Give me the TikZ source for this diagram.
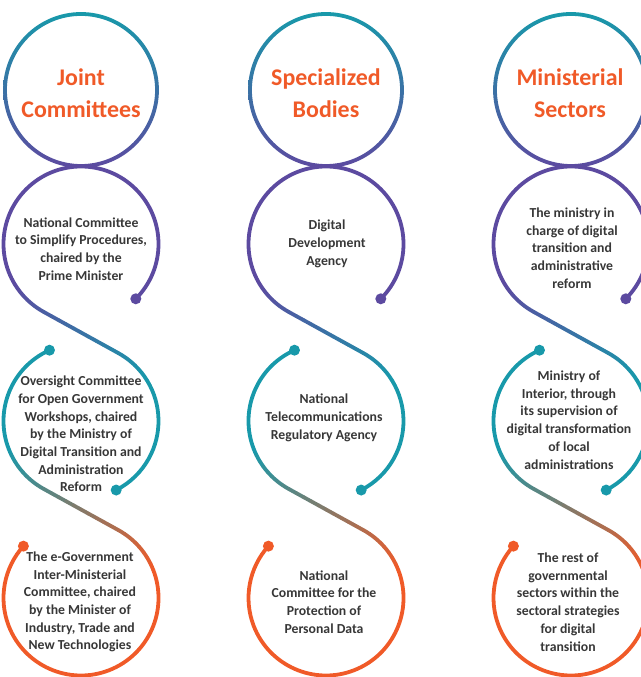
\documentclass[tikz,border=0pt]{standalone}
\usepackage{fontspec}
\setmainfont{Carlito}
\usetikzlibrary{calc}
\definecolor{cteal}{RGB}{24,153,170}
\definecolor{cpurple}{RGB}{92,74,160}
\definecolor{cblue}{RGB}{58,108,176}
\definecolor{corange}{RGB}{240,90,40}
\definecolor{ctext}{RGB}{55,55,55}
\tikzset{
  ring/.style={line width=3.8bp, line cap=round},
  dotmark/.style={circle, inner sep=0pt, minimum size=11bp},
  title/.style={text=corange, font=\fontsize{24}{32}\selectfont\bfseries, align=center},
  body/.style={text=ctext, font=\fontsize{13.8}{17.8}\selectfont\bfseries, align=center},
}
% #1 cx, #2 centre y of upper loop, #3 start colour, #4 end colour, #5 arc span (deg)
\newcommand\sgrad[5]{%
  \pgfmathsetmacro\sgLa{77.5*#5*pi/180}%
  \pgfmathsetmacro\sgLl{85.46}%
  \pgfmathsetmacro\sgLt{2*\sgLa+\sgLl}%
  \pgfmathsetmacro\sgFa{\sgLa/\sgLt}%
  \pgfmathsetmacro\sgFl{\sgLl/\sgLt}%
  \coordinate (ta) at ($(#1,#2)+(241.1:77.5)$);
  \coordinate (tb) at ($(#1,#2-177)+(61.1:77.5)$);
  \foreach \i in {0,...,7} {
    \pgfmathsetmacro\angS{241.1-#5+#5*\i/8}
    \pgfmathsetmacro\angE{241.1-#5+#5*(\i+1)/8}
    \pgfmathtruncatemacro\pc{100*((\i+0.5)/8*\sgFa)}
    \draw[ring, color=#4!\pc!#3] (#1,#2) ++(\angS:77.5) arc[start angle=\angS, end angle=\angE, radius=77.5];
  }
  \foreach \j in {0,...,9} {
    \pgfmathsetmacro\fs{\j/10}
    \pgfmathsetmacro\fe{(\j+1)/10}
    \pgfmathtruncatemacro\pc{100*(\sgFa+(\j+0.5)/10*\sgFl)}
    \draw[ring, color=#4!\pc!#3] ($(ta)!\fs!(tb)$) -- ($(ta)!\fe!(tb)$);
  }
  \foreach \k in {0,...,7} {
    \pgfmathsetmacro\angS{61.1-#5*\k/8}
    \pgfmathsetmacro\angE{61.1-#5*(\k+1)/8}
    \pgfmathtruncatemacro\pc{100*(\sgFa+\sgFl+(\k+0.5)/8*\sgFa)}
    \draw[ring, color=#4!\pc!#3] (#1,#2-177) ++(\angS:77.5) arc[start angle=\angS, end angle=\angE, radius=77.5];
  }
}
\begin{document}
\begin{tikzpicture}[x=1bp,y=1bp]
\useasboundingbox (0,0) rectangle (641,677);
\clip (0,0) rectangle (641,677);
\foreach \cx in {81,326,571} {
  % title ring
  \shade[top color=cteal, middle color=cblue, bottom color=cpurple, even odd rule]
    (\cx,587) circle[radius=77.9] (\cx,587) circle[radius=74.1];
  % loop 2 (purple)
  \draw[ring, cpurple] (\cx,433) ++(-45:77.5) arc[start angle=-45, end angle=211.1, radius=77.5];
  \sgrad{\cx}{433}{cpurple}{cteal}{30}
  % loop 3 right part (teal)
  \draw[ring, cteal] (\cx,256) ++(31.1:77.5) arc[start angle=31.1, end angle=-63, radius=77.5];
  % loop 3 left part (teal)
  \draw[ring, cteal] (\cx,256) ++(114:77.5) arc[start angle=114, end angle=201.1, radius=77.5];
  \sgrad{\cx}{256}{cteal}{corange}{40}
  % loop 4 (orange)
  \draw[ring, corange] (\cx,79) ++(21.1:77.5) arc[start angle=21.1, end angle=-222, radius=77.5];
  % dots
  \node[dotmark, fill=cpurple] at ($(\cx,433)+(-45:77.5)$) {};
  \node[dotmark, fill=cteal] at ($(\cx,256)+(-63:77.5)$) {};
  \node[dotmark, fill=cteal] at ($(\cx,256)+(114:77.5)$) {};
  \node[dotmark, fill=corange] at ($(\cx,79)+(138:77.5)$) {};
}
% titles
\node[title] (t1) at (81,584) {Joint\\Committees};
\node[title] (t2) at (326,584) {Specialized\\Bodies};
\node[title] (t3) at (570,584) {Ministerial\\Sectors};
% column 1
\node[body] (a2) at (81,428) {National Committee\\to Simplify Procedures,\\chaired by the\\Prime Minister};
\node[body] (a3) at (81,243) {Oversight Committee\\for Open Government\\Workshops, chaired\\by the Ministry of\\Digital Transition and\\Administration\\Reform};
\node[body] (a4) at (80,75) {The e-Government\\Inter-Ministerial\\Committee, chaired\\by the Minister of\\Industry, Trade and\\New Technologies};
% column 2
\node[body] (b2) at (327,433) {Digital\\Development\\Agency};
\node[body] (b3) at (324,259) {National\\Telecommunications\\Regulatory Agency};
\node[body] (b4) at (324,75) {National\\Committee for the\\Protection of\\Personal Data};
% column 3
\node[body] (c2) at (572,429) {The ministry in\\charge of digital\\transition and\\administrative\\reform};
\node[body] (c3) at (569,257) {Ministry of\\Interior, through\\its supervision of\\digital transformation\\of local\\administrations};
\node[body] (c4) at (568,75) {The rest of\\governmental\\sectors within the\\sectoral strategies\\for digital\\transition};
\end{tikzpicture}
\end{document}
